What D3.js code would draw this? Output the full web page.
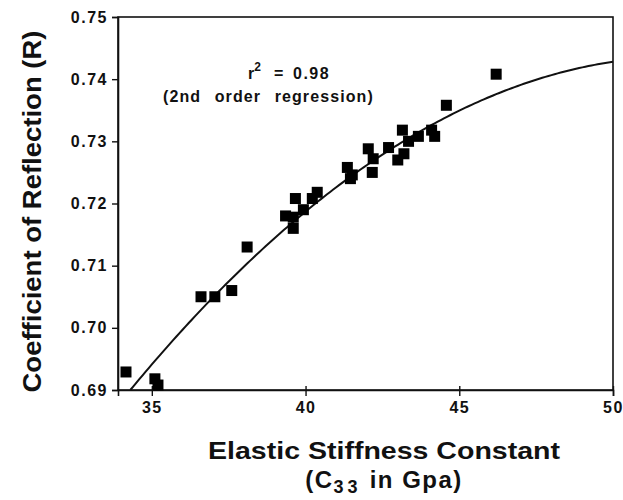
<!DOCTYPE html>
<html>
<head>
<meta charset="utf-8">
<script src="https://cdn.jsdelivr.net/npm/d3@7"></script>
<style>
  html, body { margin: 0; padding: 0; background: #fff; }
  svg { display: block; font-family: "Liberation Sans", Arial, Helvetica, sans-serif; }
</style>
</head>
<body>
<svg id="chart" width="623" height="500"></svg>
<script>
// Measured stiffness (GPa) and reflection coefficient pairs
const stiffness = [
  34.16, 35.10, 35.20, 36.60, 37.05, 37.60, 38.10,
  39.35, 39.60, 39.60, 39.67, 39.93, 40.22, 40.38,
  41.36, 41.52, 41.46, 42.04, 42.17, 42.20, 42.70,
  43.00, 43.15, 43.20, 43.35, 43.67, 44.10, 44.20,
  44.58, 46.20
];
const reflection = [
  0.6929, 0.6918, 0.6908, 0.7050, 0.7050, 0.7060, 0.7130,
  0.7180, 0.7178, 0.7160, 0.7208, 0.7190, 0.7208, 0.7218,
  0.7258, 0.7246, 0.7240, 0.7288, 0.7250, 0.7272, 0.7290,
  0.7270, 0.7318, 0.7280, 0.7300, 0.7308, 0.7318, 0.7308,
  0.7358, 0.7408
];

// Second order regression: R = c0 + c1*(C - 50) + c2*(C - 50)^2
const fitCoefficients = [0.7428, 0.0007375, -0.00016723];
const fitRange = [34.3, 50];

const xTicks = [35, 40, 45, 50];
const yTicks = [0.69, 0.70, 0.71, 0.72, 0.73, 0.74, 0.75];

const svg = d3.select("#chart");
const plotLeft = 118, plotRight = 613, plotTop = 17, plotBottom = 390;

const x = d3.scaleLinear().domain([33.9, 50]).range([plotLeft, plotRight]);
const y = d3.scaleLinear().domain([0.69, 0.75]).range([plotBottom, plotTop]);

// Frame
svg.append("rect")
  .attr("x", plotLeft).attr("y", plotTop)
  .attr("width", plotRight - plotLeft).attr("height", plotBottom - plotTop)
  .attr("fill", "none").attr("stroke", "#111").attr("stroke-width", 1.6);

// Axes
const yAxis = d3.axisLeft(y).tickValues(yTicks).tickFormat(d3.format(".2f")).tickSize(6).tickPadding(4);
const xAxis = d3.axisBottom(x).tickValues(xTicks).tickFormat(d3.format("d")).tickSize(6).tickPadding(6);

const gy = svg.append("g").attr("transform", `translate(${plotLeft},0)`).call(yAxis);
const gx = svg.append("g").attr("transform", `translate(0,${plotBottom})`).call(xAxis);

[gy, gx].forEach(g => {
  g.select(".domain").attr("stroke", "#111").attr("stroke-width", 1.6);
  g.selectAll(".tick line").attr("stroke", "#111").attr("stroke-width", 1.4);
  g.selectAll(".tick text")
    .attr("fill", "#111")
    .style("font-size", "16px")
    .style("font-weight", "bold")
    .style("letter-spacing", "1.5px")
    .style("font-family", "'Liberation Sans', Arial, sans-serif");
});
gx.selectAll(".tick line").attr("y1", -4);

// Regression curve
const fitX = d3.range(fitRange[0], fitRange[1] + 0.001, 0.1);
const fitY = fitX.map(c => {
  const u = c - 50;
  return fitCoefficients[0] + fitCoefficients[1] * u + fitCoefficients[2] * u * u;
});
svg.append("path")
  .datum(fitX.map((c, i) => [c, fitY[i]]))
  .attr("fill", "none")
  .attr("stroke", "#111")
  .attr("stroke-width", 2)
  .attr("d", d3.line().x(d => x(d[0])).y(d => y(d[1])));

// Data markers
const s = 11;
svg.append("g").selectAll("rect")
  .data(stiffness.map((c, i) => [c, reflection[i]]))
  .join("rect")
  .attr("x", d => x(d[0]) - s / 2)
  .attr("y", d => y(d[1]) - s / 2)
  .attr("width", s).attr("height", s)
  .attr("fill", "#000");

// Fit annotation
const ann = svg.append("g").attr("fill", "#111").style("font-weight", "bold");
const t1 = ann.append("text").attr("x", 248).attr("y", 79)
  .style("font-size", "16px");
t1.append("tspan").text("r");
t1.append("tspan").attr("dy", -8).style("font-size", "12px").text("2");
t1.append("tspan").attr("dy", 8).attr("x", 274).text("=");
t1.append("tspan").attr("x", 293).text("0.98").style("letter-spacing", "1.5px");
ann.append("text").attr("x", 163).attr("y", 102)
  .style("font-size", "16px")
  .style("letter-spacing", "1.1px")
  .style("word-spacing", "8px")
  .text("(2nd order regression)");

// Axis titles
svg.append("text")
  .attr("transform", `translate(41,${(plotTop + plotBottom) / 2 + 8}) rotate(-90)`)
  .attr("text-anchor", "middle")
  .attr("fill", "#111")
  .style("font-size", "25px").style("font-weight", "bold")
  .attr("textLength", 362).attr("lengthAdjust", "spacingAndGlyphs")
  .text("Coefficient of Reflection (R)");

svg.append("text")
  .attr("x", 384).attr("y", 459)
  .attr("text-anchor", "middle")
  .attr("fill", "#111")
  .style("font-size", "24px").style("font-weight", "bold")
  .attr("textLength", 352).attr("lengthAdjust", "spacingAndGlyphs")
  .text("Elastic Stiffness Constant");

const xt2 = svg.append("text")
  .attr("x", 384).attr("y", 488)
  .attr("text-anchor", "middle")
  .attr("fill", "#111")
  .style("font-size", "24px").style("font-weight", "bold")
  .style("letter-spacing", "1.5px");
xt2.append("tspan").text("(C");
xt2.append("tspan").attr("dy", 5).style("font-size", "18px").style("letter-spacing", "4px").text("33");
xt2.append("tspan").attr("dy", -5).text(" in Gpa)");
</script>
</body>
</html>
